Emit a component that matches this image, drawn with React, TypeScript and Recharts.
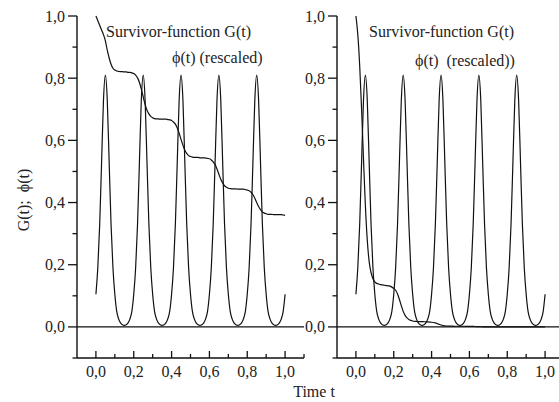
import { LineChart, Line, XAxis, YAxis, ReferenceLine } from 'recharts';

// phi(t), rescaled: same in both panels, sampled every 0.01 from t = 0 to 1
const phiRescaled = [
  0.105, 0.19, 0.33, 0.53, 0.73, 0.81, 0.73, 0.53, 0.33, 0.19, 0.105, 0.05, 0.026, 0.013, 0.007, 0.005, 0.007, 0.013, 0.026, 0.05,
  0.105, 0.19, 0.33, 0.53, 0.73, 0.81, 0.73, 0.53, 0.33, 0.19, 0.105, 0.05, 0.026, 0.013, 0.007, 0.005, 0.007, 0.013, 0.026, 0.05,
  0.105, 0.19, 0.33, 0.53, 0.73, 0.81, 0.73, 0.53, 0.33, 0.19, 0.105, 0.05, 0.026, 0.013, 0.007, 0.005, 0.007, 0.013, 0.026, 0.05,
  0.105, 0.19, 0.33, 0.53, 0.73, 0.81, 0.73, 0.53, 0.33, 0.19, 0.105, 0.05, 0.026, 0.013, 0.007, 0.005, 0.007, 0.013, 0.026, 0.05,
  0.105, 0.19, 0.33, 0.53, 0.73, 0.81, 0.73, 0.53, 0.33, 0.19, 0.105, 0.05, 0.026, 0.013, 0.007, 0.005, 0.007, 0.013, 0.026, 0.05,
  0.105,
];

// survivor function G(t), left panel (slow decay)
const survivorLeft = [
  1.0, 0.985, 0.97, 0.955, 0.94, 0.92, 0.89, 0.865, 0.845, 0.832, 0.826, 0.823, 0.822, 0.821, 0.821, 0.82, 0.82, 0.819, 0.819, 0.817,
  0.815, 0.81, 0.801, 0.786, 0.765, 0.74, 0.716, 0.697, 0.685, 0.677, 0.673, 0.67, 0.669, 0.669, 0.668, 0.668, 0.668, 0.668, 0.667, 0.666,
  0.664, 0.659, 0.652, 0.64, 0.623, 0.603, 0.584, 0.568, 0.558, 0.551, 0.548, 0.546, 0.545, 0.545, 0.545, 0.544, 0.544, 0.544, 0.543, 0.542,
  0.541, 0.537, 0.531, 0.522, 0.508, 0.491, 0.475, 0.463, 0.454, 0.449, 0.446, 0.445, 0.444, 0.444, 0.444, 0.443, 0.443, 0.443, 0.443, 0.442,
  0.44, 0.438, 0.433, 0.425, 0.414, 0.4, 0.387, 0.377, 0.37, 0.366, 0.364, 0.362, 0.362, 0.362, 0.361, 0.361, 0.361, 0.361, 0.361, 0.36,
  0.359,
];

// survivor function G(t), right panel (fast decay)
const survivorRight = [
  1.0, 0.94, 0.84, 0.7, 0.54, 0.39, 0.28, 0.21, 0.175, 0.155, 0.145, 0.14, 0.138, 0.136, 0.135, 0.134, 0.133, 0.132, 0.131, 0.128,
  0.124, 0.118, 0.106, 0.088, 0.068, 0.05, 0.037, 0.029, 0.024, 0.021, 0.019, 0.018, 0.0175, 0.017, 0.017, 0.0168, 0.0166, 0.0164, 0.016, 0.0155,
  0.015, 0.0142, 0.0128, 0.0107, 0.0083, 0.006, 0.0044, 0.0034, 0.0029, 0.0026, 0.0024, 0.0023, 0.0022, 0.0022, 0.0022, 0.0021, 0.0021, 0.0021, 0.002, 0.002,
  0.0019, 0.0018, 0.0016, 0.0013, 0.001, 0.0007, 0.0005, 0.0004, 0.00035, 0.0003, 0.0003, 0.0003, 0.0003, 0.0003, 0.0003, 0.0003, 0.0003, 0.0003, 0.0003, 0.0003,
  0.0003, 0.0003, 0.0002, 0.0002, 0.0002, 0.0001, 0.0001, 0.0001, 0.0001, 0.0001, 0.00005, 0.00005, 0.00005, 0.00005, 0.00005, 0.00005, 0.00005, 0.00005, 0.00005, 0.00005,
  0.00005,
];

const xTicks = [0, 0.1, 0.2, 0.3, 0.4, 0.5, 0.6, 0.7, 0.8, 0.9, 1.0, 1.1];
const yTicks = [-0.1, 0, 0.1, 0.2, 0.3, 0.4, 0.5, 0.6, 0.7, 0.8, 0.9, 1.0];

const times = phiRescaled.map((_, i) => i / 100);
const leftData = times.map((t, i) => ({ t, phi: phiRescaled[i], g: survivorLeft[i] }));
const rightData = times.map((t, i) => ({ t, phi: phiRescaled[i], g: survivorRight[i] }));

const FONT = '"Liberation Serif", "Times New Roman", serif';
const INK = '#111';

const fmt = (v: number) => v.toFixed(1).replace('.', ',');
const isMajor = (v: number) => Math.round(v * 10) % 2 === 0;

const XTick = (props: any) => {
  const { x, y, payload } = props;
  const major = isMajor(payload.value);
  return (
    <g>
      <line x1={x} x2={x} y1={y} y2={y - (major ? 7 : 4)} stroke={INK} strokeWidth={1.3} />
      {major && (
        <text x={x} y={y + 19} textAnchor="middle" fontSize={16} fontFamily={FONT} fill="#222">
          {fmt(payload.value)}
        </text>
      )}
    </g>
  );
};

const YTick = (props: any) => {
  const { x, y, payload } = props;
  const major = isMajor(payload.value);
  return (
    <g>
      <line x1={x} x2={x - (major ? 9 : 4.5)} y1={y} y2={y} stroke={INK} strokeWidth={1.3} />
      {major && (
        <text x={x - 12} y={y + 5.5} textAnchor="end" fontSize={16} fontFamily={FONT} fill="#222">
          {fmt(payload.value)}
        </text>
      )}
    </g>
  );
};

function Panel({ data, left }: { data: any[]; left: number }) {
  return (
    <div style={{ position: 'absolute', left, top: 0 }}>
      <LineChart width={310} height={402} data={data} margin={{ top: 16, right: 6, bottom: 14, left: 37 }}>
        <XAxis
          dataKey="t"
          type="number"
          domain={[-0.1, 1.1]}
          ticks={xTicks}
          interval={0}
          tick={<XTick />}
          tickLine={false}
          tickSize={0}
          tickMargin={0}
          height={30}
          axisLine={{ stroke: INK, strokeWidth: 1.4 }}
        />
        <YAxis
          type="number"
          domain={[-0.1, 1.0]}
          ticks={yTicks}
          interval={0}
          tick={<YTick />}
          tickLine={false}
          tickSize={0}
          tickMargin={0}
          width={40}
          axisLine={{ stroke: INK, strokeWidth: 1.4 }}
        />
        <ReferenceLine y={0} stroke={INK} strokeWidth={1.2} />
        <Line dataKey="phi" type="monotone" dot={false} stroke={INK} strokeWidth={1.2} isAnimationActive={false} />
        <Line dataKey="g" type="monotone" dot={false} stroke={INK} strokeWidth={1.2} isAnimationActive={false} />
      </LineChart>
    </div>
  );
}

export default function App() {
  return (
    <div style={{ position: 'absolute', left: 0, top: 0, width: 559, height: 402, overflow: 'hidden', background: '#fff' }}>
      <Panel data={leftData} left={0} />
      <Panel data={rightData} left={260} />
      <svg width={559} height={402} style={{ position: 'absolute', left: 0, top: 0, pointerEvents: 'none' }}>
        <g fontFamily={FONT} fontSize={16} fill="#222">
          <text x={106} y={37}>Survivor-function G(t)</text>
          <text x={172} y={63}>ϕ(t) (rescaled)</text>
          <text x={369} y={37}>Survivor-function G(t)</text>
          <text x={415} y={66} style={{ whiteSpace: 'pre' }}>{'ϕ(t)  (rescaled))'}</text>
          <text x={29} y={200} textAnchor="middle" transform="rotate(-90 29 200)" style={{ whiteSpace: 'pre' }}>
            {'G(t);  ϕ(t)'}
          </text>
          <text x={314} y={397} textAnchor="middle">Time t</text>
        </g>
      </svg>
    </div>
  );
}
